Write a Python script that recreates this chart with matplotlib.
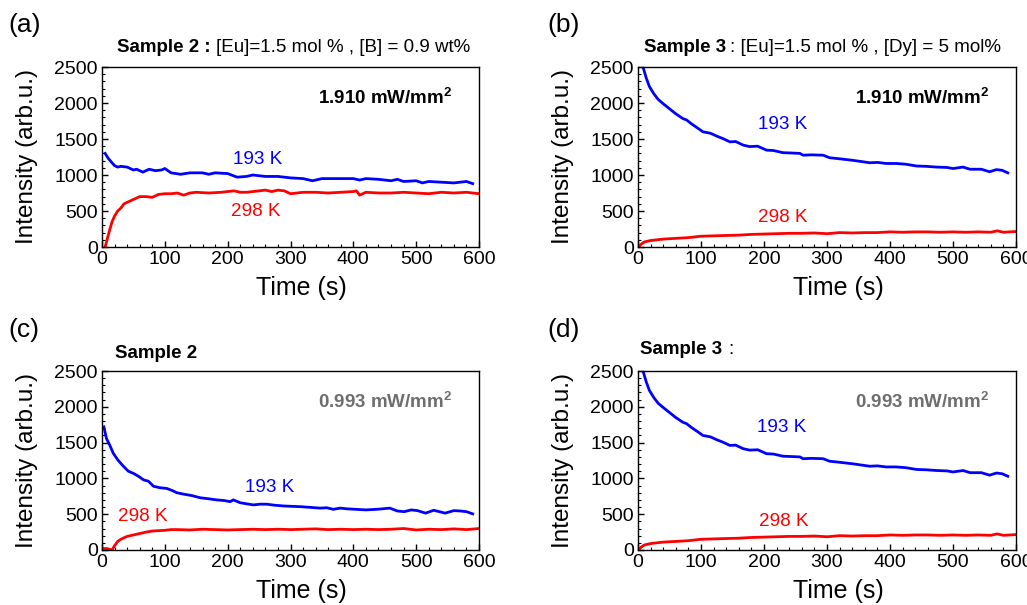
import matplotlib
matplotlib.use("Agg")
from matplotlib import pyplot as plt
from matplotlib.ticker import MultipleLocator

plt.rcParams['font.family'] = ['Liberation Sans', 'DejaVu Sans']
plt.rcParams['mathtext.fontset'] = 'custom'
plt.rcParams['mathtext.rm'] = 'Liberation Sans'
plt.rcParams['mathtext.bf'] = 'Liberation Sans:bold'

# sample 2, 1.910 mW/mm2
t_a_193 = [5, 10, 15, 20, 25, 30, 40, 50, 55, 65, 75, 85, 95, 100, 110, 125, 140, 160, 170, 180,
           200, 215, 230, 240, 260, 280, 300, 320, 335, 350, 380, 400, 410, 420, 440, 460, 470,
           480, 500, 510, 520, 540, 560, 580, 590]
i_a_193 = [1300, 1230, 1180, 1130, 1110, 1120, 1110, 1070, 1080, 1040, 1080, 1060, 1070, 1090, 1030,
           1010, 1030, 1030, 1010, 1030, 1020, 970, 980, 1000, 980, 980, 960, 950, 920, 950, 950,
           950, 930, 950, 940, 920, 940, 910, 920, 890, 910, 900, 890, 910, 880]
t_a_298 = [5, 8, 12, 16, 20, 25, 30, 35, 40, 50, 60, 70, 80, 90, 100, 110, 120, 130, 140, 150, 170,
           190, 200, 210, 220, 230, 250, 260, 270, 280, 290, 300, 320, 340, 360, 380, 400, 405, 410,
           420, 440, 460, 480, 500, 520, 540, 560, 580, 590, 600]
i_a_298 = [0, 100, 230, 350, 430, 500, 540, 600, 620, 660, 700, 700, 690, 730, 740, 740, 750, 720,
           750, 760, 750, 760, 770, 780, 760, 760, 780, 790, 770, 790, 780, 740, 760, 760, 750, 760,
           770, 780, 720, 760, 750, 750, 760, 750, 740, 760, 750, 760, 750, 740]

# sample 3 (same curves in b and d)
t_b_193 = [8, 13, 18, 25, 32, 40, 50, 60, 71, 77, 85, 95, 103, 115, 125, 135, 146, 155, 167, 177,
           190, 204, 215, 230, 245, 257, 262, 275, 294, 304, 315, 325, 340, 352, 368, 380, 394, 410,
           425, 442, 458, 474, 490, 500, 516, 527, 545, 558, 569, 578, 587]
i_b_193 = [2500, 2350, 2230, 2130, 2050, 1990, 1920, 1850, 1785, 1765, 1710, 1650, 1600, 1580, 1540,
           1505, 1460, 1465, 1415, 1395, 1400, 1345, 1340, 1310, 1305, 1300, 1275, 1280, 1275, 1240,
           1230, 1220, 1205, 1190, 1170, 1175, 1160, 1160, 1150, 1125, 1120, 1110, 1105, 1090, 1110,
           1080, 1080, 1045, 1075, 1065, 1030]
t_b_298 = [2, 5, 10, 20, 30, 40, 50, 60, 70, 80, 90, 100, 120, 140, 160, 180, 200, 220, 240, 260,
           280, 300, 320, 340, 360, 380, 400, 420, 440, 460, 480, 500, 520, 540, 560, 570, 580, 600]
i_b_298 = [10, 40, 70, 90, 100, 110, 115, 120, 125, 130, 140, 150, 155, 160, 165, 175, 180, 185, 190,
           190, 195, 185, 200, 195, 200, 200, 210, 205, 210, 210, 205, 210, 205, 210, 205, 225, 205, 215]

# sample 2, 0.993 mW/mm2
t_c_193 = [3, 7, 12, 18, 25, 34, 42, 50, 58, 66, 74, 82, 92, 103, 112, 119, 130, 143, 156, 170, 182,
           195, 204, 209, 220, 230, 241, 252, 262, 275, 289, 302, 316, 332, 347, 358, 368, 379, 390,
           400, 410, 420, 440, 458, 470, 481, 492, 502, 515, 528, 546, 560, 570, 580, 590]
i_c_193 = [1720, 1560, 1470, 1350, 1260, 1170, 1100, 1070, 1030, 980, 960, 890, 870, 860, 830, 800,
           780, 760, 730, 715, 700, 690, 675, 700, 660, 645, 630, 640, 640, 625, 615, 610, 605, 595,
           585, 590, 568, 585, 575, 570, 565, 560, 570, 585, 545, 535, 560, 550, 515, 555, 515, 550,
           545, 535, 505]
t_c_298 = [0, 3, 8, 12, 16, 20, 25, 30, 40, 50, 60, 70, 80, 90, 100, 110, 120, 140, 160, 180, 200,
           220, 240, 260, 280, 300, 320, 340, 360, 380, 400, 420, 440, 460, 480, 500, 520, 540, 560,
           580, 600]
i_c_298 = [0, 20, 20, 10, 0, 60, 120, 150, 190, 210, 230, 250, 265, 270, 275, 285, 285, 280, 290,
           285, 280, 285, 290, 285, 290, 285, 290, 295, 285, 290, 285, 290, 285, 290, 300, 280, 290,
           285, 295, 285, 300]

W, H = 1027, 605
fig = plt.figure(figsize=(W / 100, H / 100), dpi=100)


def make_ax(x0, x1, y0, y1):
    ax = fig.add_axes([x0 / W, 1 - y1 / H, (x1 - x0) / W, (y1 - y0) / H])
    ax.set_xlim(0, 600)
    ax.set_ylim(0, 2500)
    ax.xaxis.set_major_locator(MultipleLocator(100))
    ax.xaxis.set_minor_locator(MultipleLocator(20))
    ax.yaxis.set_major_locator(MultipleLocator(500))
    ax.yaxis.set_minor_locator(MultipleLocator(100))
    ax.tick_params(which='both', direction='in', top=False, right=False, labelsize=14, pad=3)
    ax.tick_params(which='major', length=4, width=1)
    ax.tick_params(which='minor', length=2.5, width=0.8)
    for s in ax.spines.values():
        s.set_linewidth(1)
    ax.set_xlabel('Time (s)', fontsize=18, labelpad=6)
    ax.xaxis.set_label_coords(0.53, -0.16)
    ax.set_ylabel('Intensity (arb.u.)', fontsize=17.5, labelpad=12)
    return ax


panels = [
    (make_ax(102, 479, 67, 247), t_a_193, i_a_193, t_a_298, i_a_298,
     (247, 1209), (244, 500), '1.910', 'black'),
    (make_ax(638, 1016, 67, 247), t_b_193, i_b_193, t_b_298, i_b_298,
     (230, 1695), (230, 403), '1.910', 'black'),
    (make_ax(102, 479, 371, 550), t_c_193, i_c_193, t_c_298, i_c_298,
     (267, 866), (65, 461), '0.993', '#6e6e6e'),
    (make_ax(638, 1016, 371, 550), t_b_193, i_b_193, t_b_298, i_b_298,
     (228, 1704), (232, 405), '0.993', '#6e6e6e'),
]

for ax, tb, ib, tr, ir, pb, pr, power, pcol in panels:
    ax.plot(tb, ib, color='#0000ff', lw=2)
    ax.plot(tr, ir, color='#ff0000', lw=2)
    ax.text(pb[0], pb[1], '193 K', color='#0000ff', fontsize=13.6, ha='center', va='center')
    ax.text(pr[0], pr[1], '298 K', color='#ff0000', fontsize=13.6, ha='center', va='center')
    ax.text(0.93, 0.83, power + r' mW/mm$^\mathbf{2}$', transform=ax.transAxes, fontsize=13.5,
            fontweight='bold', color=pcol, ha='right', va='center')

# panel titles: bold sample name followed by regular composition
fs_t = 13.5
fig.text(211 / W, 1 - 47 / H, 'Sample 2 :', fontsize=fs_t, fontweight='bold', ha='right', va='center')
fig.text(216 / W, 1 - 47 / H, '[Eu]=1.5 mol % , [B] = 0.9 wt%', fontsize=fs_t, ha='left', va='center')
fig.text(726 / W, 1 - 47 / H, 'Sample 3', fontsize=fs_t, fontweight='bold', ha='right', va='center')
fig.text(730 / W, 1 - 47 / H, ': [Eu]=1.5 mol % , [Dy] = 5 mol%', fontsize=fs_t, ha='left', va='center')
fig.text(115 / W, 1 - 353 / H, 'Sample 2', fontsize=fs_t, fontweight='bold', ha='left', va='center')
fig.text(640 / W, 1 - 350 / H, 'Sample 3', fontsize=fs_t, fontweight='bold', ha='left', va='center')
fig.text(728 / W, 1 - 350 / H, ':', fontsize=fs_t, ha='left', va='center')

for lab, x, y in [('(a)', 8, 25), ('(b)', 547, 25), ('(c)', 8, 330), ('(d)', 547, 330)]:
    fig.text(x / W, 1 - y / H, lab, fontsize=19, ha='left', va='center')

fig.savefig('out.png', dpi=100)
